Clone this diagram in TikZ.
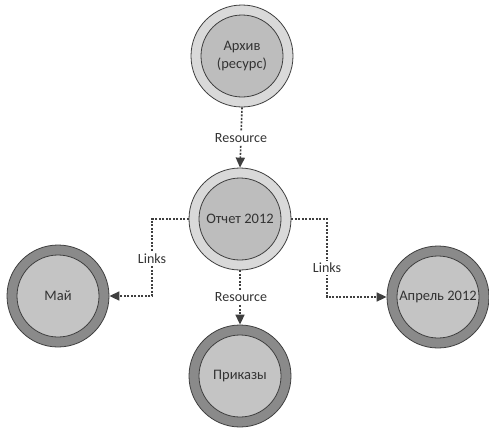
\documentclass[tikz,border=0pt]{standalone}
\usepackage{fontspec}
\setmainfont{Carlito}
\usetikzlibrary{arrows.meta}
\definecolor{edgecol}{HTML}{3F3F3F}
\definecolor{ringlight}{HTML}{D9D9D9}
\definecolor{filllight}{HTML}{BDBDBD}
\definecolor{ringdark}{HTML}{8A8A8A}
\definecolor{filldark}{HTML}{C4C4C4}
\definecolor{txtcol}{HTML}{333333}
\begin{document}
\begin{tikzpicture}[x=1pt,y=-1pt,
  outerA/.style={circle,draw=edgecol,line width=0.8pt,fill=ringlight,minimum size=102pt,inner sep=0pt},
  outerB/.style={circle,draw=edgecol,line width=0.8pt,fill=ringdark,minimum size=102pt,inner sep=0pt},
  innerA/.style={circle,draw=edgecol,line width=0.8pt,fill=filllight,minimum size=82pt,inner sep=0pt,
    text=txtcol,align=center,font=\fontsize{14.5}{18}\selectfont},
  innerB/.style={circle,draw=edgecol,line width=0.8pt,fill=filldark,minimum size=82pt,inner sep=0pt,
    text=txtcol,align=center,font=\fontsize{14.5}{18}\selectfont},
  link/.style={draw=edgecol,line width=1.6pt,dash pattern=on 2pt off 1.5pt,
    -{Triangle[length=10pt,width=9pt]}},
  lbl/.style={fill=white,text=txtcol,inner sep=2pt,font=\fontsize{14}{16}\selectfont}
]
\useasboundingbox (0,0) rectangle (489,429);
\fill[white] (0,0) rectangle (489,429);

\node[outerA] (arch) at (242,56) {};
\node[innerA] (archI) at (arch.center) {Архив\\(ресурс)};

\node[outerA] (rep) at (240,219) {};
\node[innerA] (repI) at (rep.center) {Отчет 2012};

\node[outerB] (may) at (58,296) {};
\node[innerB] (mayI) at (may.center) {Май};

\node[outerB] (apr) at (438,297) {};
\node[innerB] (aprI) at (apr.center) {Апрель 2012};

\node[outerB] (ord) at (240,376) {};
\node[innerB] (ordI) at (ord.center) {Приказы};

\coordinate (lkL) at (152,259);
\coordinate (lkR) at (327,268);

\draw[link] (arch.south) -- (rep.north);
\draw[link] (rep.south) -- (ord.north);
\draw[link] (rep.west) -| (lkL) |- (may.east);
\draw[link] (rep.east) -| (lkR) |- (apr.west);

\node[lbl] (l1) at (241,138) {Resource};
\node[lbl] (l2) at (241,297) {Resource};
\node[lbl] (l3) at (lkL) {Links};
\node[lbl] (l4) at (lkR) {Links};
\end{tikzpicture}
\end{document}
